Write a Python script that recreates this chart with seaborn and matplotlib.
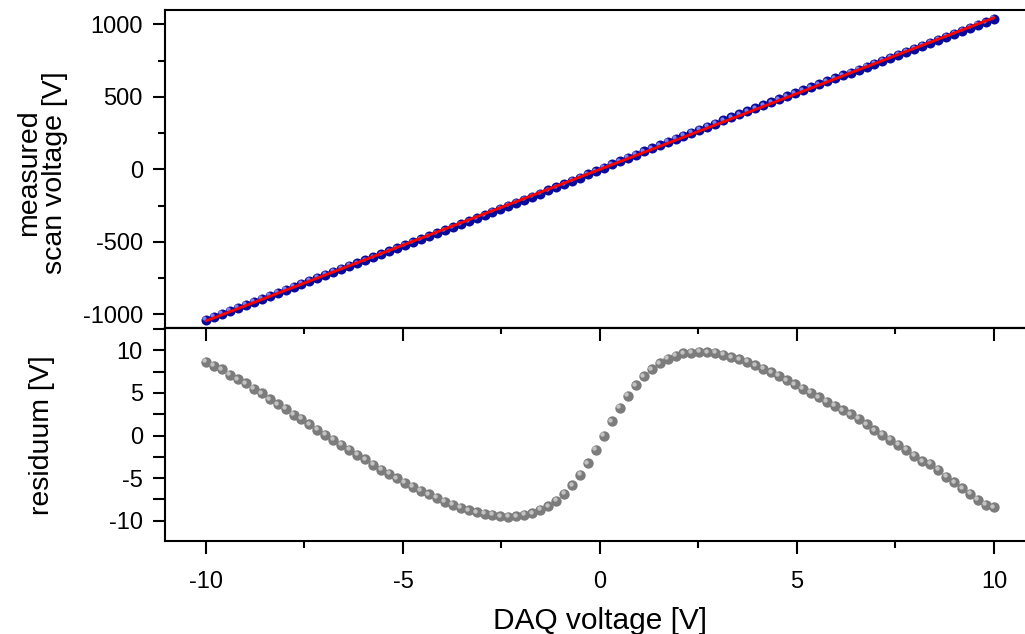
import numpy as np
import matplotlib
matplotlib.use("Agg")
import matplotlib.pyplot as plt
import matplotlib.transforms as mtransforms
from matplotlib.ticker import MultipleLocator, FuncFormatter
import seaborn as sns

# DAQ sweep: 100 equally spaced set points from -10 V to 10 V
daq_voltage = np.linspace(-10, 10, 100)

# measured scan voltage [V]
scan_voltage = [
    -1036.3, -1015.7, -995.0, -974.5, -953.9, -933.3, -912.8, -892.2, -871.8, -851.4,
    -830.8, -810.3, -789.7, -769.2, -748.7, -728.3, -707.7, -687.2, -666.7, -646.2,
    -625.6, -605.1, -584.6, -564.0, -543.3, -522.8, -502.1, -481.5, -460.8, -440.1,
    -419.4, -398.7, -377.9, -357.1, -336.2, -315.3, -294.3, -273.4, -252.3, -231.1,
    -209.9, -188.6, -167.1, -145.5, -123.8, -101.8, -79.7, -57.4, -34.9, -12.2,
    10.6, 33.4, 56.1, 78.6, 100.9, 123.1, 145.0, 166.8, 188.5, 209.9,
    231.3, 252.5, 273.7, 294.8, 315.8, 336.7, 357.6, 378.4, 399.2, 420.0,
    440.6, 461.4, 482.0, 502.6, 523.3, 543.8, 564.5, 585.1, 605.7, 626.3,
    646.9, 667.5, 688.1, 708.6, 729.0, 749.5, 770.1, 790.6, 811.1, 831.5,
    852.0, 872.8, 893.2, 913.5, 933.9, 954.4, 974.9, 995.2, 1015.8, 1036.6,
]

# residuum of the linear fit [V]
residuum = [
    8.70, 8.20, 7.80, 7.14, 6.63, 6.16, 5.49, 4.98, 4.28, 3.65,
    3.14, 2.47, 1.96, 1.34, 0.71, 0.08, -0.51, -1.09, -1.65, -2.27,
    -2.78, -3.45, -4.02, -4.51, -5.01, -5.56, -6.00, -6.51, -6.90, -7.33,
    -7.76, -8.12, -8.47, -8.78, -8.98, -9.21, -9.33, -9.49, -9.53, -9.45,
    -9.33, -9.13, -8.74, -8.31, -7.68, -6.82, -5.84, -4.62, -3.25, -1.65,
    0.00, 1.69, 3.29, 4.67, 5.93, 6.99, 7.81, 8.47, 9.02, 9.38,
    9.65, 9.73, 9.85, 9.81, 9.73, 9.49, 9.22, 8.94, 8.67, 8.28,
    7.85, 7.46, 7.02, 6.52, 6.05, 5.49, 5.02, 4.52, 4.00, 3.49,
    2.99, 2.52, 1.96, 1.34, 0.64, 0.08, -0.47, -1.06, -1.65, -2.39,
    -3.01, -3.33, -4.00, -4.86, -5.49, -6.19, -6.82, -7.56, -8.12, -8.43,
]

sns.set_style("ticks", {"axes.edgecolor": "black", "text.color": "black",
                        "xtick.color": "black", "ytick.color": "black",
                        "axes.labelcolor": "black"})
plt.rcParams["font.family"] = ["Liberation Sans", "DejaVu Sans"]
plt.rcParams["axes.linewidth"] = 1.5

W, H = 1025, 634
fig = plt.figure(figsize=(W / 100, H / 100), dpi=100)
left = 165 / W
ax1 = fig.add_axes([left, (H - 328.3) / H, 1 - left, (328.3 - 10.3) / H])
ax2 = fig.add_axes([left, (H - 540.7) / H, 1 - left, (540.7 - 328.3) / H], sharex=ax1)


def balls(ax, x, y, face, shine, size):
    # shaded "sphere" markers: body plus a small offset highlight
    sns.scatterplot(x=x, y=y, ax=ax, color=face, s=size, linewidth=0, zorder=3)
    hl = mtransforms.offset_copy(ax.transData, fig=fig, x=-1.5, y=1.5, units="dots")
    sns.scatterplot(x=x, y=y, ax=ax, color=shine, s=size * 0.18, linewidth=0,
                    alpha=0.8, transform=hl, zorder=4)


# upper panel: data + linear fit
balls(ax1, daq_voltage, scan_voltage, "#0a0a9a", "#9a9aff", 52)
sns.regplot(x=daq_voltage, y=scan_voltage, ax=ax1, ci=None, scatter=False,
            line_kws=dict(color="#ff0000", lw=2, zorder=5))

# lower panel: residuals
balls(ax2, daq_voltage, residuum, "#7c7c7c", "#d4d4d4", 56)

ax1.set_xlim(-11.04, 10.79)
ax1.set_ylim(-1096.5, 1096.5)
ax2.set_ylim(-12.35, 12.6)

for ax in (ax1, ax2):
    sns.despine(ax=ax, top=False, right=True)
    ax.set_xlabel("")
    ax.set_ylabel("")

num = FuncFormatter(lambda v, p: f"{v:g}")

ax1.yaxis.set_major_locator(MultipleLocator(500))
ax1.yaxis.set_minor_locator(MultipleLocator(250))
ax1.yaxis.set_major_formatter(num)
ax1.tick_params(axis="y", which="major", direction="out", length=9, width=1.5,
                labelsize=17, pad=7)
ax1.tick_params(axis="y", which="minor", direction="out", length=5, width=1.5)
ax1.tick_params(axis="x", which="both", bottom=False, top=False,
                labelbottom=False)

ax2.yaxis.set_major_locator(MultipleLocator(5))
ax2.yaxis.set_minor_locator(MultipleLocator(2.5))
ax2.yaxis.set_major_formatter(num)
ax2.tick_params(axis="y", which="both", direction="out", length=9, width=1.5,
                labelsize=17, pad=7)
ax2.xaxis.set_major_locator(MultipleLocator(5))
ax2.xaxis.set_minor_locator(MultipleLocator(2.5))
ax2.xaxis.set_major_formatter(num)
ax2.tick_params(axis="x", which="major", direction="out", length=9, width=1.5,
                labelsize=17, pad=13)
ax2.tick_params(axis="x", which="minor", direction="out", length=5, width=1.5)

# inward ticks along the shared boundary
sec = ax2.secondary_xaxis("top")
sec.xaxis.set_major_locator(MultipleLocator(5))
sec.xaxis.set_minor_locator(MultipleLocator(2.5))
sec.tick_params(which="major", direction="in", length=9, width=1.5, labeltop=False)
sec.tick_params(which="minor", direction="in", length=4, width=1.5)
sec.spines["top"].set_linewidth(1.5)

fig.text(42 / W, 1 - 173 / H, "measured\nscan voltage [V]", rotation=90,
         ha="center", va="center", fontsize=20.5, linespacing=0.95)
fig.text(42 / W, 1 - 435 / H, "residuum [V]", rotation=90,
         ha="center", va="center", fontsize=20.5)
fig.text(600 / W, 1 - 621 / H, "DAQ voltage [V]", ha="center", va="center",
         fontsize=21.5)

fig.savefig("out.png", dpi=100)
